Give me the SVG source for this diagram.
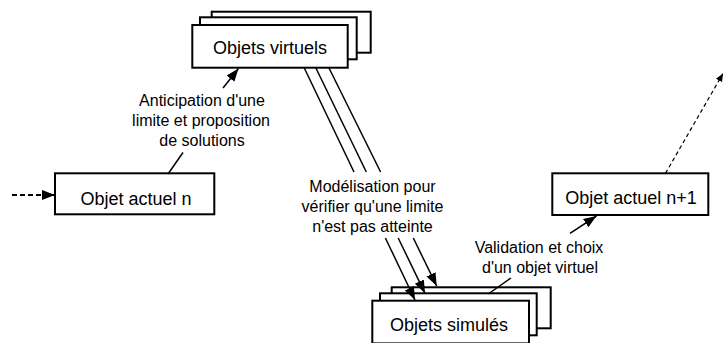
<svg xmlns="http://www.w3.org/2000/svg" width="723" height="343" viewBox="0 0 723 343">
<style>
.box{fill:#fff;stroke:#000;stroke-width:2}
.bt{font-family:"Liberation Sans",Arial,sans-serif;font-size:18px;text-anchor:middle;fill:#000}
.lt{font-family:"Liberation Sans",Arial,sans-serif;font-size:16px;text-anchor:middle;fill:#000}
.ln{fill:none;stroke:#000;stroke-width:1.5}
.dash{fill:none;stroke:#000;stroke-width:2;stroke-dasharray:5 3}
.dash2{fill:none;stroke:#000;stroke-width:1.2;stroke-dasharray:4 3}
</style>
<defs>
<marker id="ah" markerUnits="userSpaceOnUse" markerWidth="14" markerHeight="12" refX="13" refY="5" orient="auto">
<path d="M0,0 L13,5 L0,10 Z" fill="#000"/>
</marker>
<marker id="ahs" markerUnits="userSpaceOnUse" markerWidth="10" markerHeight="8" refX="8" refY="3.5" orient="auto">
<path d="M0,0 L8,3.5 L0,7 Z" fill="#000"/>
</marker>
</defs>
<g id="virtuels">
<rect class="box" x="211.7" y="11.7" width="159" height="41"/>
<rect class="box" x="200" y="17.3" width="156.7" height="42"/>
<rect class="box" x="192.3" y="25" width="155.4" height="42.7"/>
<text class="bt" x="270" y="54">Objets virtuels</text>
</g>
<g id="simules">
<rect class="box" x="391.7" y="287.3" width="159" height="41"/>
<rect class="box" x="380" y="293.3" width="156.7" height="42"/>
<rect class="box" x="372.3" y="300.7" width="156.7" height="42.7"/>
<text class="bt" x="449" y="331">Objets simulés</text>
</g>
<g id="actuel-n">
<rect class="box" x="55" y="173.3" width="159.3" height="41"/>
<text class="bt" x="136" y="205">Objet actuel n</text>
</g>
<g id="actuel-n1">
<rect class="box" x="552.3" y="173.3" width="156" height="41.7"/>
<text class="bt" x="631" y="203.5">Objet actuel n+1</text>
</g>
<g id="labels">
<text class="lt" x="202" y="106">Anticipation d'une</text>
<text class="lt" x="201" y="126">limite et proposition</text>
<text class="lt" x="202" y="146">de solutions</text>
<text class="lt" x="372.5" y="192">Modélisation pour</text>
<text class="lt" x="372.5" y="212">vérifier qu'une limite</text>
<text class="lt" x="372.5" y="232">n'est pas atteinte</text>
<text class="lt" x="539" y="253">Validation et choix</text>
<text class="lt" x="540" y="273">d'un objet virtuel</text>
</g>
<g id="connectors">
<path class="dash" d="M12,195 L55,195" marker-end="url(#ah)"/>
<path class="ln" d="M168,174 L183,152.5"/>
<path class="ln" d="M223,88 L238.5,68.5" marker-end="url(#ah)"/>
<path class="ln" d="M304.3,68 L354,172"/>
<path class="ln" d="M385.4,238 L415,300" marker-end="url(#ah)"/>
<path class="ln" d="M315.9,68 L366.3,172"/>
<path class="ln" d="M398.2,238 L425,293.3" marker-end="url(#ah)"/>
<path class="ln" d="M329,68 L380.6,172"/>
<path class="ln" d="M413.3,238 L436.7,286" marker-end="url(#ah)"/>
<path class="ln" d="M511,278 L488.3,294"/>
<path class="ln" d="M570,233.3 L596.5,216" marker-end="url(#ah)"/>
<path class="dash2" d="M665.5,173.3 L723,73.5" marker-end="url(#ahs)"/>
</g>
</svg>
